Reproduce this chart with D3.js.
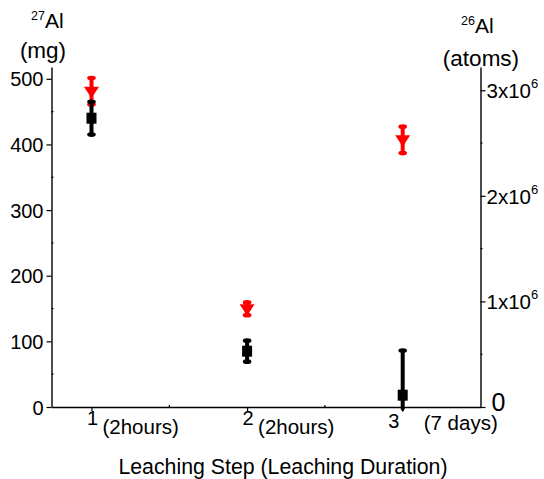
<!DOCTYPE html>
<html>
<head>
<meta charset="utf-8">
<script src="https://cdn.jsdelivr.net/npm/d3@7"></script>
<style>
  html, body { margin: 0; padding: 0; background: #fff; }
  svg { display: block; font-family: "Liberation Sans", Arial, sans-serif; }
</style>
</head>
<body>
<svg id="chart" width="544" height="479"></svg>
<script>
// Leaching steps and their durations
const steps = [1, 2, 3];
const durations = ["(2hours)", "(2hours)", "(7 days)"];

// Stable 27Al released per step (mg) with uncertainty
const al27 = [440, 85, 18];
const al27Err = [25, 16, 68];

// Cosmogenic 26Al released per step (atoms) with uncertainty
const al26 = [2.99e6, 0.93e6, 2.53e6];
const al26Err = [0.125e6, 0.06e6, 0.125e6];

// Axis tick values
const leftTicks = [0, 100, 200, 300, 400, 500];
const leftMinor = [50, 150, 250, 350, 450];
const rightTicks = [0, 1e6, 2e6, 3e6];
const rightMinor = [0.5e6, 1.5e6, 2.5e6];
const xMinor = [1.5, 2.5];

const svg = d3.select("#chart");
const plot = { left: 51.5, right: 480.5, top: 67, bottom: 407 };

const x = d3.scaleLinear().domain([0.743, 3.5]).range([plot.left, plot.right]);
const yL = d3.scaleLinear().domain([0, 518]).range([plot.bottom, plot.top]).clamp(true);
const yR = d3.scaleLinear().domain([0, 3.22e6]).range([plot.bottom, plot.top]).clamp(true);

const axisColor = "#000";

// Left axis
const gL = svg.append("g").attr("transform", `translate(${plot.left},0)`);
gL.call(d3.axisLeft(yL).tickValues(leftTicks).tickSize(5).tickSizeOuter(0).tickPadding(3));
gL.selectAll("text").attr("font-size", 20).attr("fill", "#000").attr("dy", "0.35em");
gL.select(".domain").attr("stroke-width", 1.4);
gL.selectAll(".tick line").attr("stroke-width", 1.2);
gL.selectAll(".minor").data(leftMinor).enter().append("line")
  .attr("x1", 0).attr("x2", 2).attr("y1", d => yL(d)).attr("y2", d => yL(d))
  .attr("stroke", axisColor).attr("stroke-width", 1.2);

// Right axis with 10^n notation
const gR = svg.append("g").attr("transform", `translate(${plot.right},0)`);
gR.call(d3.axisRight(yR).tickValues(rightTicks).tickSize(5).tickSizeOuter(0).tickFormat(""));
gR.select(".domain").attr("stroke-width", 1.4);
gR.selectAll(".tick line").attr("stroke-width", 1.2);
gR.selectAll(".tick").each(function (d) {
  const t = d3.select(this).append("text").attr("fill", "#000").attr("text-anchor", "start");
  if (d === 0) {
    t.attr("x", 11).attr("y", 3).attr("font-size", 25).text("0");
  } else {
    t.attr("x", 6).attr("y", 0).attr("dy", "0.35em").attr("font-size", 20.5);
    t.append("tspan").text(`${d / 1e6}x10`);
    t.append("tspan").attr("font-size", 13).attr("dy", "-0.75em").text("6");
  }
});
gR.selectAll(".minor").data(rightMinor).enter().append("line")
  .attr("x1", 0).attr("x2", 2).attr("y1", d => yR(d)).attr("y2", d => yR(d))
  .attr("stroke", axisColor).attr("stroke-width", 1.2);

// Bottom axis
const gX = svg.append("g").attr("transform", `translate(0,${plot.bottom})`);
gX.call(d3.axisBottom(x).tickValues(steps).tickSize(4).tickSizeOuter(0).tickFormat(""));
gX.select(".domain").attr("stroke-width", 1.4);
gX.selectAll(".tick line").attr("stroke-width", 1.2);
gX.selectAll(".minor").data(xMinor).enter().append("line")
  .attr("x1", d => x(d)).attr("x2", d => x(d)).attr("y1", 0).attr("y2", -2)
  .attr("stroke", axisColor).attr("stroke-width", 1.2);

// Step numbers and durations under the ticks
const numOffset = [1, 1, -9];
const numDy = [18, 18, 21];
const durOffset = [11, 11, 21];
const durDy = [27, 27, 23];
steps.forEach((s, i) => {
  svg.append("text").attr("x", x(s) + numOffset[i]).attr("y", plot.bottom + numDy[i])
    .attr("text-anchor", "middle").attr("font-size", 20).attr("fill", "#000").text(s);
  svg.append("text").attr("x", x(s) + durOffset[i]).attr("y", plot.bottom + durDy[i])
    .attr("text-anchor", "start").attr("font-size", 20.5).attr("fill", "#000").text(durations[i]);
});

// Axis titles
svg.append("text").attr("x", 283).attr("y", 474).attr("text-anchor", "middle")
  .attr("font-size", 21.3).attr("fill", "#000").text("Leaching Step (Leaching Duration)");

const tL = svg.append("text").attr("x", 31).attr("y", 28).attr("font-size", 21).attr("fill", "#000");
tL.append("tspan").attr("font-size", 12.5).attr("dy", "-8").text("27");
tL.append("tspan").attr("dy", "8").text("Al");
svg.append("text").attr("x", 43).attr("y", 58).attr("text-anchor", "middle")
  .attr("font-size", 22.5).attr("fill", "#000").text("(mg)");

const tR = svg.append("text").attr("x", 461).attr("y", 33).attr("font-size", 21).attr("fill", "#000");
tR.append("tspan").attr("font-size", 12.5).attr("dy", "-8").text("26");
tR.append("tspan").attr("dy", "8").text("Al");
svg.append("text").attr("x", 481).attr("y", 66).attr("text-anchor", "middle")
  .attr("font-size", 22.5).attr("fill", "#000").text("(atoms)");

// Error bar with rounded caps; a clamped end gets no cap
function errorBars(values, errs, y, color) {
  const g = svg.append("g");
  steps.forEach((s, i) => {
    const lo = values[i] - errs[i], hi = values[i] + errs[i];
    const yLo = y(lo), yHi = y(hi);
    const clampedLo = lo < y.domain()[0];
    g.append("line").attr("x1", x(s)).attr("x2", x(s))
      .attr("y1", clampedLo ? yLo + 2 : yLo).attr("y2", yHi)
      .attr("stroke", color).attr("stroke-width", 4);
    g.append("ellipse").attr("cx", x(s)).attr("cy", yHi).attr("rx", 4.3).attr("ry", 2.4).attr("fill", color);
    if (!clampedLo) {
      g.append("ellipse").attr("cx", x(s)).attr("cy", yLo).attr("rx", 4.3).attr("ry", 2.4).attr("fill", color);
    } else {
      g.append("path")
        .attr("d", `M${x(s) - 2},${yLo + 2}L${x(s) + 2},${yLo + 2}L${x(s)},${yLo + 5}Z`)
        .attr("fill", color);
    }
  });
}

// 26Al series: red downward triangles
errorBars(al26, al26Err, yR, "#ff0000");
svg.append("g").selectAll("path").data(steps).enter().append("path")
  .attr("transform", (d, i) => `translate(${x(d)},${yR(al26[i])})`)
  .attr("d", "M-7.5,-4.5L7.5,-4.5L0,7Z")
  .attr("fill", "#ff0000");

// 27Al series: black squares
errorBars(al27, al27Err, yL, "#000");
svg.append("g").selectAll("rect").data(steps).enter().append("rect")
  .attr("x", d => x(d) - 5).attr("y", (d, i) => yL(al27[i]) - 5.5)
  .attr("width", 10).attr("height", 11).attr("fill", "#000");
</script>
</body>
</html>
